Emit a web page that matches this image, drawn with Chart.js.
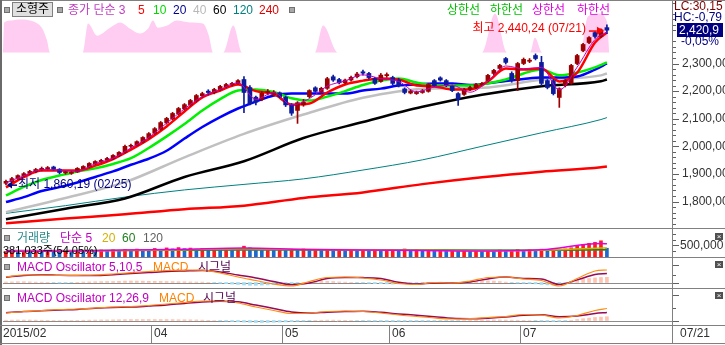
<!DOCTYPE html>
<html lang="ko">
<head>
<meta charset="utf-8">
<title>소형주</title>
<script src="https://cdn.jsdelivr.net/npm/chart.js@4.4.0/dist/chart.umd.min.js"></script>
<style>
  html, body { margin: 0; padding: 0; background: #fff; }
  #wrap { position: relative; width: 725px; height: 345px; overflow: hidden; background: #fff;
          font-family: "Liberation Sans", "Noto Sans CJK KR", sans-serif; font-size: 12px; }
  #wrap canvas { position: absolute; left: 0; }
  .t { position: absolute; white-space: nowrap; line-height: 14px; height: 14px; }
  .ln { position: absolute; background: #808080; }
  .sq { position: absolute; width: 4px; height: 4px; background: #a8a8a8; border: 1px solid #707070; }
  .xb { position: absolute; left: 715px; width: 8px; height: 7px; background: #505050; color: #fff;
        font-size: 8px; line-height: 7px; text-align: center; }
  #btn { position: absolute; left: 12px; top: 2px; width: 41px; height: 15px; background: #e0e0e0;
         border: 1px solid #808080; box-sizing: border-box; text-align: center; line-height: 13px; color: #000; }
</style>
</head>
<body>
<div id="wrap">
  <canvas id="cMain" width="725" height="228" style="top:0"></canvas>
  <canvas id="cVol" width="725" height="28" style="top:229px"></canvas>
  <canvas id="cM1" width="725" height="30" style="top:258px"></canvas>
  <canvas id="cM2" width="725" height="54" style="top:289px"></canvas>
</div>
<script>
// ---- data ----
const year = '2015';
const dates = [
  '02/25','02/26','02/27',
  '03/02','03/03','03/04','03/05','03/06','03/09','03/10','03/11','03/12','03/13','03/16','03/17','03/18','03/19','03/20','03/23','03/24','03/25','03/26','03/27','03/30','03/31',
  '04/01','04/02','04/03','04/06','04/07','04/08','04/09','04/10','04/13','04/14','04/15','04/16','04/17','04/20','04/21','04/22','04/23','04/24','04/27','04/28','04/29','04/30',
  '05/04','05/06','05/07','05/08','05/11','05/12','05/13','05/14','05/15','05/18','05/19','05/20','05/21','05/22','05/26','05/27','05/28','05/29',
  '06/01','06/02','06/03','06/04','06/05','06/08','06/09','06/10','06/11','06/12','06/15','06/16','06/17','06/18','06/19','06/22','06/23','06/24','06/25','06/26','06/29','06/30',
  '07/01','07/02','07/03','07/06','07/07','07/08','07/09','07/10','07/13','07/14','07/15','07/16','07/17','07/20','07/21'
];
const opens = [
  1866,1872,1884,1893,1902,1908,1915,1918,1925,1917,
  1904,1902,1907,1919,1926,1937,1944,1950,1955,1966,
  1978,2000,2004,2015,2030,2047,2062,2085,2100,2118,
  2136,2150,2165,2183,2200,2194,2205,2216,2223,2227,
  2242,2213,2178,2170,2195,2188,2194,2178,2150,2130,
  2150,2180,2212,2196,2210,2252,2242,2230,2240,2252,
  2270,2264,2246,2235,2256,2249,2240,2208,2193,2191,
  2195,2199,2238,2248,2238,2218,2191,2188,2206,2212,
  2222,2238,2264,2282,2318,2264,2238,2300,2308,2329,
  2304,2238,2238,2177,2220,2228,2300,2347,2376,2412,
  2398,2430
];
const highs = [
  1878,1888,1897,1905,1913,1920,1925,1927,1928,1919,
  1912,1910,1923,1930,1941,1948,1953,1960,1970,1981,
  2004,2008,2020,2035,2050,2068,2090,2105,2123,2141,
  2155,2170,2188,2196,2205,2210,2221,2228,2232,2242,
  2253,2220,2182,2198,2206,2202,2197,2182,2155,2162,
  2170,2205,2216,2214,2250,2258,2246,2244,2254,2268,
  2276,2268,2250,2264,2266,2254,2246,2212,2204,2200,
  2206,2228,2242,2252,2242,2222,2195,2210,2218,2228,
  2232,2261,2279,2297,2322,2270,2304,2320,2318,2335,
  2326,2242,2243,2212,2242,2297,2333,2373,2398,2416,
  2426,2440.24
];
const lows = [
  1860.19,1868,1880,1889,1897,1904,1911,1914,1913,1900,
  1899,1898,1905,1916,1923,1933,1940,1946,1952,1962,
  1975,1994,2001,2012,2027,2043,2058,2080,2096,2114,
  2132,2146,2160,2178,2186,2190,2201,2212,2219,2224,
  2122,2150,2150,2165,2186,2182,2176,2144,2112,2083,
  2145,2176,2196,2192,2206,2235,2226,2226,2236,2248,
  2258,2244,2224,2232,2250,2222,2215,2190,2190,2188,
  2192,2196,2216,2236,2216,2198,2148,2184,2202,2208,
  2218,2234,2260,2278,2298,2232,2202,2296,2303,2313,
  2220,2208,2186,2141,2215,2225,2296,2343,2372,2392,
  2394,2408
];
const closes = [
  1873,1883,1894,1901,1909,1916,1920,1923,1917,1905,
  1908,1906,1920,1927,1938,1945,1949,1956,1967,1978,
  2000,2003,2017,2032,2046,2064,2086,2101,2119,2137,
  2151,2166,2184,2191,2195,2206,2217,2224,2228,2238,
  2195,2155,2160,2192,2197,2196,2180,2150,2120,2158,
  2160,2202,2199,2210,2245,2240,2230,2240,2250,2262,
  2265,2249,2228,2258,2260,2228,2220,2195,2199,2196,
  2201,2224,2220,2240,2220,2202,2170,2206,2213,2224,
  2228,2257,2275,2293,2304,2238,2300,2315,2312,2318,
  2228,2213,2191,2209,2238,2293,2329,2369,2394,2398,
  2422.1,2420.9
];
// volume in thousand shares
const volumes = [
  240,262,231,268,245,270,238,281,252,230,266,241,275,249,290,262,305,271,318,283,330,297,345,310,298,
  372,330,395,351,410,362,388,340,376,331,352,318,344,305,336,470,398,352,310,337,298,321,
  286,340,301,350,312,331,296,318,280,305,271,293,266,289,258,282,252,276,
  300,265,348,290,312,270,295,262,283,255,276,248,270,244,262,240,258,236,300,262,286,322,
  290,318,276,340,298,326,290,350,402,468,540,592,640,704.95,381.033
];

const fastIdx = [0,3,6,9,12,15,18,21,24,27,30,33,36,39,42,45,48,51,54,57,60,63,66,69,72,75,78,81,84,87,90,93,96,99,101];
const ma3  = [1868,1893,1915,1914,1910,1937,1957,1994,2032,2084,2136,2180,2206,2230,2170,2195,2150,2173,2218,2237,2259,2245,2235,2197,2215,2221,2196,2236,2291,2281,2286,2204,2287,2387,2414];
const ma5  = [1851,1888,1912,1912,1912,1930,1954,1988,2026,2072,2126,2177,2202,2224,2200,2190,2151,2155,2195,2224,2238,2246,2242,2220,2217,2206,2206,2235,2282,2278,2282,2235,2267,2376,2412];
const ma10 = [1822,1853,1878,1894,1909,1920,1936,1957,1994,2036,2081,2130,2171,2202,2206,2197,2174,2166,2180,2200,2222,2238,2246,2231,2220,2220,2220,2228,2242,2264,2278,2257,2267,2286,2304];
const ma20 = [1798,1816,1838,1852,1869,1889,1909,1933,1955,1984,2028,2070,2106,2137,2162,2184,2191,2191,2191,2191,2202,2209,2220,2224,2228,2228,2222,2228,2237,2244,2249,2249,2253,2278,2300];

const slowIdx = [0,10,20,30,40,50,60,70,80,90,100,101];
const ma40  = [1761,1813,1870,1960,2045,2115,2176,2208,2212,2241,2257,2264];
const ma60  = [1736,1774,1811,1889,1946,2030,2088,2143,2187,2218,2236,2242];
const ma120 = [1757,1785,1816,1842,1862,1882,1914,1951,2000,2049,2097,2104];
const ma240 = [1721,1738,1754,1772,1785,1813,1833,1863,1888,1908,1924,1927];

const volMa5   = [250,255,300,340,390,330,300,285,260,310,589,572];
const volMa20  = [255,262,285,320,355,335,310,290,270,295,390,395];
const volMa60  = [275,272,280,298,318,320,315,305,295,295,318,320];
const volMa120 = [295,294,293,295,298,300,302,301,299,299,305,305];

const macd1   = [5.5,7.5,7.5,7,7.2,7.5,8.5,9.8,11,12,12.5,12.3,9.5,5.5,2,-1.5,-3.5,1,5,5.5,4.5,2.5,-1,-2,0,-0.5,1.5,5,5.5,3.5,2,-3.5,4,11.5,12.5];
const signal1 = [5.3,7.1,7.7,7.2,7,7,7.8,8.9,9.9,11,11.5,11.9,10.5,7.5,4.6,1,-2.3,-0.5,3.9,5,4.9,4,0.2,-1.6,-0.6,-0.6,0.5,3.6,5.4,4,3.5,-2,2.6,8,9];
const macd2   = [7.5,9,10,11,11.5,12.5,13.5,14,15,16.5,18,19.5,19.5,17.5,13.5,10,7,7.5,9,9.5,9,7.5,5.5,4,2.5,1.5,2,3,4,6,5.5,2.5,5,10,12];
const signal2 = [7.7,9,9.8,10.5,11.1,12.2,13,13.4,14.4,15.5,17.1,18.5,19.2,18.7,15.4,12,8.6,7.5,8.3,8.9,9.3,8.2,6.6,5.3,3.8,2.2,1.8,2.3,3.4,5.3,5.8,3.8,4.5,7,8];
const osc1 = [
  0.5,0.6,0.8,0.8,0.6,0.4,0.3,0.2,-0.2,-0.5,
  -0.4,-0.2,0.2,0.5,0.6,0.8,0.9,1,1,1.2,
  1.4,1.5,1.4,1.3,1.2,1.2,1.1,1,0.9,0.8,
  0.8,0.6,0.5,0.4,0.2,-0.3,-0.8,-1.2,-1.6,-2,
  -2.5,-2.8,-2.8,-2.6,-2.4,-2.2,-2,-1.6,-1.2,-0.6,
  0.2,0.8,1.2,1.4,1.2,1,0.6,0.4,0.2,-0.2,
  -0.4,-0.8,-1.2,-1.2,-1.4,-1.6,-1.4,-1.2,-0.8,-0.6,
  -0.4,-0.2,0.2,0.4,0.2,-0.2,-0.4,0.2,0.6,1,
  1.4,1.6,1.4,1,0.4,-0.2,-0.6,-0.8,-1,-1.4,
  -2,-2.4,-2.6,-2,-0.6,1,2.2,3.2,4,4.6,
  5,5.2
];
const osc2 = [
  0.3,0.4,0.5,0.5,0.5,0.4,0.3,0.2,0.1,0,
  0,0.1,0.2,0.3,0.4,0.5,0.6,0.6,0.7,0.8,
  0.9,1,1,1,1,1,1,1,0.9,0.8,
  0.8,0.7,0.6,0.4,0.2,0,-0.3,-0.6,-1,-1.3,
  -1.6,-1.8,-2,-2,-1.9,-1.8,-1.6,-1.4,-1.1,-0.8,
  -0.5,-0.2,0.1,0.3,0.4,0.4,0.3,0.2,0.1,-0.1,
  -0.3,-0.5,-0.6,-0.7,-0.8,-0.8,-0.8,-0.7,-0.7,-0.6,
  -0.6,-0.5,-0.4,-0.3,-0.2,-0.2,-0.1,0,0.2,0.3,
  0.4,0.5,0.6,0.6,0.5,0.4,0.3,0.2,0,-0.2,
  -0.5,-0.7,-0.9,-0.8,-0.4,0.3,1,1.8,2.4,3,
  3.4,3.8
];

// pink band on top of the price panel
const bandBase = 2340;
const bandIdx = [-0.5,-0.3,1,2,3,4,5,6.1,6.9,7.4, 12.9,13.8,15.3,17.5,19.2,20.8,22.5,23.9,24.7,25.5,27.1,28.7,30.9,33.1,34.1,34.8,
                 36.5,38.2,39.7, 51.9,53.3,55.8, 80,82.2,84.2, 88.1,88.9,90.1, 96.5,97.8,99.6,101,101.4];
const bandTop = [2340,2449,2456,2459,2459,2456,2449,2427,2383,2340, 2340,2445,2401,2430,2449,2427,2409,2427,2456,2430,2438,2456,2449,2445,2401,2340,
                 2340,2438,2340, 2340,2438,2340, 2340,2481,2340, 2340,2394,2340, 2340,2470,2481,2452,2340];

const priceTicks = [1800,1900,2000,2100,2200,2300];
const volTicks = [500];

// ---- helpers ----
const wrap = document.getElementById('wrap');
const UP = '#9c0000', DOWN = '#0c1c9c';

function fmt(v, d) {
  const [a, b] = v.toFixed(d).split('.');
  return a.replace(/\B(?=(\d{3})+(?!\d))/g, ',') + (b ? ',' + b : '');
}
function pts(idx, vals) { return idx.map((x, k) => ({ x: x, y: vals[k] })); }
function line(data, color, width, order) {
  return { type: 'line', data, borderColor: color, borderWidth: width, pointRadius: 0, fill: false,
           cubicInterpolationMode: 'monotone', order };
}
function addText(txt, x, yc, color, size) {
  const s = document.createElement('span');
  s.className = 't'; s.textContent = txt;
  s.style.left = x + 'px'; s.style.top = (yc - 7) + 'px'; s.style.color = color;
  if (size) s.style.fontSize = size + 'px';
  wrap.appendChild(s);
}
function addBox(cls, x, y, w, h, color) {
  const d = document.createElement('div');
  d.className = cls;
  d.style.left = x + 'px'; d.style.top = y + 'px';
  if (w) d.style.width = w + 'px';
  if (h) d.style.height = h + 'px';
  if (color) d.style.background = color;
  wrap.appendChild(d);
  return d;
}

Chart.defaults.font.family = '"Liberation Sans", "Noto Sans CJK KR", sans-serif';
Chart.defaults.font.size = 12;
Chart.defaults.animation = false;
Chart.defaults.events = [];
Chart.defaults.plugins.legend.display = false;
Chart.defaults.plugins.tooltip.enabled = false;

// tick marks on the right axis
Chart.register({
  id: 'marks',
  afterDraw(chart, args, o) {
    if (!o || !o.major) return;
    const { ctx, chartArea: a, scales: { y } } = chart;
    ctx.save();
    ctx.strokeStyle = '#606060'; ctx.lineWidth = 1;
    ctx.beginPath();
    const put = (v, len) => {
      const py = Math.round(y.getPixelForValue(v)) + 0.5;
      ctx.moveTo(a.right, py); ctx.lineTo(a.right + len, py);
    };
    o.major.forEach(v => put(v, 7));
    (o.minor || []).forEach(v => put(v, 4));
    ctx.stroke();
    ctx.restore();
  }
});
// zero line of the oscillator panels
Chart.register({
  id: 'zeroLine',
  beforeDatasetsDraw(chart, args, o) {
    if (!o || !o.on) return;
    const { ctx, chartArea: a, scales: { y } } = chart;
    const py = Math.round(y.getPixelForValue(0)) + 0.5;
    ctx.save();
    ctx.strokeStyle = '#8c8c8c'; ctx.lineWidth = 1;
    ctx.beginPath(); ctx.moveTo(a.left, py); ctx.lineTo(a.right, py); ctx.stroke();
    ctx.restore();
  }
});

const xScale = { type: 'linear', min: -0.5, max: 111.94, display: false, offset: false };
const candleColor = c => closes[c.dataIndex] >= opens[c.dataIndex] ? UP : DOWN;

// low / high annotations
const annotate = {
  id: 'annotate',
  afterDatasetsDraw(chart) {
    const { ctx, scales: { x, y } } = chart;
    const lo = lows.indexOf(Math.min(...lows));
    const hi = highs.indexOf(Math.max(...highs));
    ctx.save();
    ctx.font = '12px "Liberation Sans", "Noto Sans CJK KR"';
    ctx.textBaseline = 'middle';

    let px = x.getPixelForValue(lo), py = y.getPixelForValue(lows[lo]);
    ctx.fillStyle = '#000080';
    ctx.beginPath(); ctx.moveTo(px + 1, py); ctx.lineTo(px + 6, py - 3.5); ctx.lineTo(px + 6, py + 3.5); ctx.closePath(); ctx.fill();
    ctx.fillRect(px + 6, py - 0.5, 5, 1.5);
    ctx.fillText('최저 ' + fmt(lows[lo], 2) + ' (' + dates[lo] + ')', px + 12, py);

    px = x.getPixelForValue(hi); py = y.getPixelForValue(highs[hi]);
    ctx.fillStyle = '#ff0000';
    const ay = py + 6;
    ctx.beginPath(); ctx.moveTo(px - 3, ay); ctx.lineTo(px - 10, ay - 4); ctx.lineTo(px - 10, ay + 4); ctx.closePath(); ctx.fill();
    ctx.fillRect(px - 18, ay - 0.5, 8, 1.5);
    ctx.textAlign = 'right';
    ctx.fillText('최고 ' + fmt(highs[hi], 2) + ' (' + dates[hi] + ')', px - 21, py + 3.5);
    ctx.restore();
  }
};

// current price box and header figures on the right axis
const priceBox = {
  id: 'priceBox',
  afterDraw(chart) {
    const { ctx, chartArea: a, scales: { y } } = chart;
    const last = closes[closes.length - 1], prev = closes[closes.length - 2];
    const py = Math.round(y.getPixelForValue(last));
    ctx.save();
    ctx.font = '12px "Liberation Sans"';
    ctx.textBaseline = 'middle';
    ctx.fillStyle = '#800000'; ctx.fillText('LC:30,15', a.right + 2, 7);
    ctx.fillStyle = '#000080'; ctx.fillText('HC:-0,79', a.right + 2, 18);
    ctx.fillRect(a.right + 5, py - 7, 46, 14);
    ctx.fillStyle = '#ffffff'; ctx.fillText(fmt(last, 1), a.right + 7, py + 0.5);
    ctx.fillStyle = '#000080'; ctx.fillText(fmt((last - prev) / prev * 100, 2) + '%', a.right + 9, py + 11.5);
    ctx.restore();
  }
};

// minor price ticks every 20 points
const priceMinor = [];
for (let v = 1720; v <= 2520; v += 20) if (v % 100 !== 0) priceMinor.push(v);

// ---- price panel ----
new Chart(document.getElementById('cMain'), {
  type: 'line',
  data: {
    datasets: [
      { type: 'line', data: pts(bandIdx, bandTop), borderWidth: 0, borderColor: 'rgba(0,0,0,0)',
        backgroundColor: '#ffccf2', fill: { value: bandBase }, pointRadius: 0,
        cubicInterpolationMode: 'monotone', order: 100 },
      line(pts(slowIdx, ma240), '#ff0000', 2.5, 90),
      line(pts(slowIdx, ma120), '#008080', 1, 89),
      line(pts(slowIdx, ma60), '#000000', 2.5, 88),
      line(pts(slowIdx, ma40), '#c0c0c0', 2.5, 87),
      line(pts(fastIdx, ma20), '#0000ff', 2.5, 86),
      line(pts(fastIdx, ma10), '#00f000', 2.5, 85),
      line(pts(fastIdx, ma5), '#ff0000', 2.5, 84),
      { type: 'bar', data: dates.map((d, i) => ({ x: i, y: [lows[i], highs[i]] })),
        backgroundColor: candleColor, barThickness: 1, grouped: false, order: 50 },
      { type: 'bar', data: dates.map((d, i) => ({ x: i, y: [opens[i], closes[i]] })),
        backgroundColor: candleColor, barThickness: 4, minBarLength: 1, grouped: false, order: 49 },
      line(pts(fastIdx, ma3), '#c000c0', 1, 10)
    ]
  },
  options: {
    responsive: false,
    layout: { padding: { left: 3, top: 0, right: 0, bottom: 0 } },
    scales: {
      x: xScale,
      y: {
        position: 'right', min: 1704.0, max: 2530.1,
        grid: { display: false, drawTicks: false }, border: { display: false },
        ticks: { padding: 10, color: '#333', font: { size: 12 }, autoSkip: false, callback: v => fmt(v, 2) },
        afterBuildTicks: s => { s.ticks = priceTicks.map(v => ({ value: v })); },
        afterFit: s => { s.width = 53; s.paddingTop = 0; s.paddingBottom = 0; }
      }
    },
    plugins: { marks: { major: priceTicks, minor: priceMinor } }
  },
  plugins: [annotate, priceBox]
});

// ---- volume panel ----
new Chart(document.getElementById('cVol'), {
  type: 'line',
  data: {
    datasets: [
      { type: 'bar', data: volumes.map((v, i) => ({ x: i, y: v })),
        backgroundColor: c => (c.dataIndex === 0 || volumes[c.dataIndex] >= volumes[c.dataIndex - 1]) ? '#ff1c1c' : '#1e68d0',
        barThickness: 3, grouped: false, order: 50 },
      line(pts(slowIdx, volMa120), '#808080', 1, 13),
      line(pts(slowIdx, volMa60), '#208020', 1.5, 12),
      line(pts(slowIdx, volMa20), '#d4b000', 1.5, 11),
      line(pts(slowIdx, volMa5), '#e000e0', 1.5, 10)
    ]
  },
  options: {
    responsive: false,
    layout: { padding: { left: 3, top: 0, right: 0, bottom: 0 } },
    scales: {
      x: xScale,
      y: {
        position: 'right', min: 0, max: 1217,
        grid: { display: false, drawTicks: false }, border: { display: false },
        ticks: { padding: 8, color: '#333', font: { size: 12 }, autoSkip: false, callback: v => fmt(v * 1000, 0) },
        afterBuildTicks: s => { s.ticks = volTicks.map(v => ({ value: v })); },
        afterFit: s => { s.width = 53; s.paddingTop = 0; s.paddingBottom = 0; }
      }
    },
    plugins: { marks: { major: volTicks, minor: [250, 750, 1000] } }
  }
});

// ---- MACD panels ----
function macdChart(id, macd, signal, osc, min, max, bottomPad, majors, minors, extra) {
  return new Chart(document.getElementById(id), {
    type: 'line',
    data: {
      datasets: [
        { type: 'bar', data: osc.map((v, i) => ({ x: i, y: v })),
          backgroundColor: c => c.parsed.y >= 0 ? '#ffc4b0' : '#a4dcf2',
          barThickness: 3, grouped: false, order: 50 },
        line(pts(fastIdx, signal), '#960a5a', 1.5, 11),
        line(pts(fastIdx, macd), '#ff8c10', 1.2, 10)
      ]
    },
    options: {
      responsive: false,
      layout: { padding: { left: 3, top: 0, right: 53, bottom: bottomPad } },
      scales: { x: xScale, y: { display: false, min, max } },
      plugins: { marks: { major: majors, minor: minors }, zeroLine: { on: true } }
    },
    plugins: extra ? [extra] : []
  });
}

const dateAxis = {
  id: 'dateAxis',
  afterDraw(chart) {
    const { ctx, chartArea: a, scales: { x } } = chart;
    const top = a.bottom, yc = top + 9;
    ctx.save();
    ctx.font = '12px "Liberation Sans"';
    ctx.fillStyle = '#303030'; ctx.strokeStyle = '#808080'; ctx.lineWidth = 1;
    ctx.textBaseline = 'middle';
    let lastX = -1e9;
    for (let i = 0; i < dates.length; i++) {
      if (i > 0 && dates[i].slice(0, 2) === dates[i - 1].slice(0, 2)) continue;
      const px = Math.round(x.getPixelForValue(i - 0.5));
      if (px - lastX < 60) continue;
      if (i === 0) {
        ctx.fillText(year + '/' + dates[i].slice(0, 2), px, yc);
      } else {
        ctx.beginPath(); ctx.moveTo(px - 0.5, top); ctx.lineTo(px - 0.5, top + 18); ctx.stroke();
        ctx.fillText(dates[i].slice(0, 2), px + 2, yc);
      }
      lastX = px;
    }
    ctx.fillText(dates[dates.length - 1], a.right + 8, yc);
    ctx.restore();
  }
};

macdChart('cM1', macd1, signal1, osc1, -5.5, 24.5, 0, [0, 17.5], [7.5]);
macdChart('cM2', macd2, signal2, osc2, -4.5, 31.5, 18, [0, 25.5], [12.5], dateAxis);

// ---- frame lines ----
addBox('ln', 0, 0, 725, 1);
addBox('ln', 0, 0, 2, 345, '#6a6a6a');
addBox('ln', 672, 0, 1, 343);
[228, 257, 288, 325, 343].forEach(y => addBox('ln', 0, y, 725, 1));

// ---- legends and labels ----
addBox('sq', 4, 7);
const btn = addBox('', 0, 0); btn.id = 'btn'; btn.textContent = '소형주';
btn.style.left = ''; btn.style.top = '';
addBox('sq', 57, 7);
addBox('sq', 289, 7);
[
  ['종가 단순 3', 68, '#c03cc0'], ['5', 138, '#ff0000'], ['10', 153, '#00d800'], ['20', 173, '#000090'],
  ['40', 193, '#b8b8b8'], ['60', 213, '#000000'], ['120', 233, '#008080'], ['240', 259, '#e00000'],
  ['상한선', 447, '#00c000'], ['하한선', 490, '#00c000'], ['상한선', 532, '#e000e0'], ['하한선', 577, '#e000e0']
].forEach(([t, x, c]) => addText(t, x, 9.5, c));

addBox('sq', 4, 235);
[['거래량', 17, '#2a8a8a'], ['단순 5', 60, '#c000c0'], ['20', 102, '#d4b000'], ['60', 122, '#208020'], ['120', 143, '#606060']]
  .forEach(([t, x, c]) => addText(t, x, 238, c));
addText(fmt(volumes[volumes.length - 1] * 1000, 0) + '주(' + fmt(volumes[volumes.length - 1] / volumes[volumes.length - 2] * 100, 2) + '%)', 3, 249.5, '#000', 11);

addBox('sq', 4, 264);
[['MACD Oscillator 5,10,5', 17, '#c000c0'], ['MACD', 153, '#ff8000'], ['시그널', 198, '#500050']]
  .forEach(([t, x, c]) => addText(t, x, 267, c));
addBox('sq', 4, 295);
[['MACD Oscillator 12,26,9', 17, '#c000c0'], ['MACD', 159, '#ff8000'], ['시그널', 203, '#500050']]
  .forEach(([t, x, c]) => addText(t, x, 297.5, c));

[233, 261, 292].forEach(y => { const b = addBox('xb', 715, y); b.textContent = '×'; });
</script>
</body>
</html>
